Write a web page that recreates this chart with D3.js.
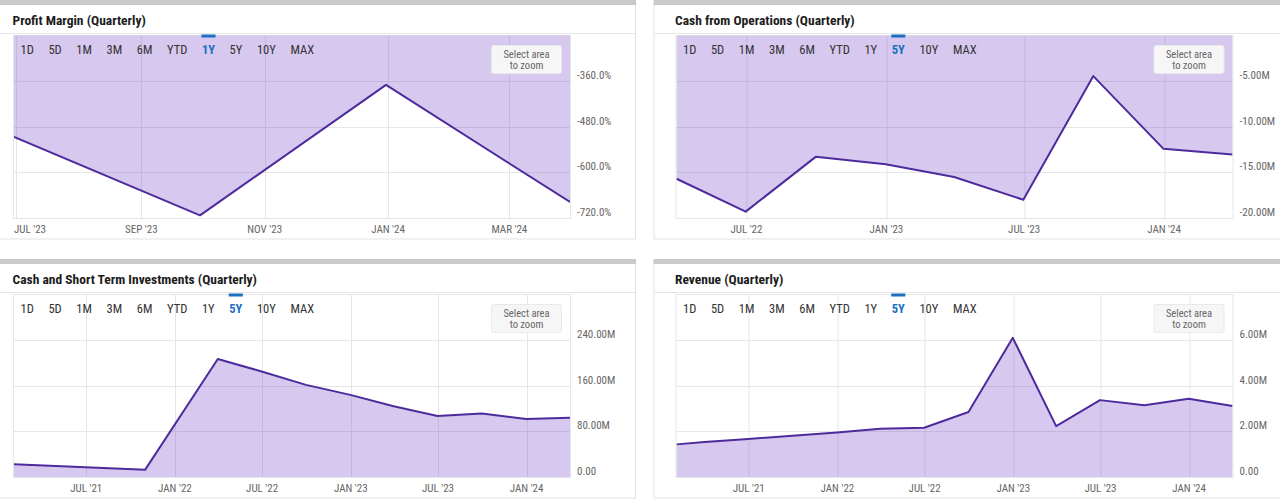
<!DOCTYPE html>
<html><head><meta charset="utf-8">
<script src="https://cdn.jsdelivr.net/npm/d3@7"></script>
<style>
html,body{margin:0;padding:0;background:#fff;overflow:hidden;}
svg{display:block;}
text{font-family:"Liberation Sans Narrow","Roboto Condensed","DejaVu Sans Condensed","Liberation Sans",Arial,sans-serif;}
</style></head><body>
<svg id="chart" width="1280" height="499"></svg>
<script>
// ---------- data ----------
const rangeButtons = ["1D","5D","1M","3M","6M","YTD","1Y","5Y","10Y","MAX"];

// Profit Margin (Quarterly), %
const pmTitle = "Profit Margin (Quarterly)";
const pmDates = ["2023-06-30","2023-09-30","2023-12-31","2024-03-31"];
const pmValues = [-507, -713, -370, -678];
const pmXDomain = ["2023-06-30","2024-03-31"];
const pmXTicks = ["2023-07-01","2023-09-01","2023-11-01","2024-01-01","2024-03-01"];
const pmXLabels = ["JUL '23","SEP '23","NOV '23","JAN '24","MAR '24"];
const pmYDomain = [-720, -240];
const pmYTicks = [-360, -480, -600, -720];
const pmYLabels = ["-360.0%","-480.0%","-600.0%","-720.0%"];

// Cash from Operations (Quarterly), millions
const cfoTitle = "Cash from Operations (Quarterly)";
const cfoDates = ["2022-03-31","2022-06-30","2022-09-30","2022-12-31","2023-03-31","2023-06-30","2023-09-30","2023-12-31","2024-03-31"];
const cfoValues = [-15.7, -19.3, -13.3, -14.1, -15.5, -18.0, -4.45, -12.4, -13.05];
const cfoXDomain = ["2022-03-31","2024-03-31"];
const cfoXTicks = ["2022-07-01","2023-01-01","2023-07-01","2024-01-01"];
const cfoXLabels = ["JUL '22","JAN '23","JUL '23","JAN '24"];
const cfoYDomain = [-20, 0];
const cfoYTicks = [-5, -10, -15, -20];
const cfoYLabels = ["-5.00M","-10.00M","-15.00M","-20.00M"];

// Cash and Short Term Investments (Quarterly), millions
const cashTitle = "Cash and Short Term Investments (Quarterly)";
const cashDates = ["2021-02-01","2021-10-31","2022-03-31","2022-06-30","2022-09-30","2022-12-31","2023-03-31","2023-06-30","2023-09-30","2023-12-31","2024-03-31"];
const cashValues = [22.5, 12.5, 207, 185, 161.5, 144, 124, 107, 111.5, 101.5, 104];
const cashXDomain = ["2021-02-01","2024-03-31"];
const cashXTicks = ["2021-07-01","2022-01-01","2022-07-01","2023-01-01","2023-07-01","2024-01-01"];
const cashXLabels = ["JUL '21","JAN '22","JUL '22","JAN '23","JUL '23","JAN '24"];
const cashYDomain = [0, 320];
const cashYTicks = [0, 80, 160, 240];
const cashYLabels = ["0.00","80.00M","160.00M","240.00M"];

// Revenue (Quarterly), millions
const revTitle = "Revenue (Quarterly)";
const revDates = ["2021-02-01","2021-03-31","2021-06-30","2021-09-30","2021-12-31","2022-03-31","2022-06-30","2022-09-30","2022-12-31","2023-03-31","2023-06-30","2023-09-30","2023-12-31","2024-03-31"];
const revValues = [1.43, 1.53, 1.67, 1.81, 1.95, 2.11, 2.16, 2.85, 6.1, 2.23, 3.37, 3.15, 3.43, 3.11];
const revXDomain = ["2021-02-01","2024-03-31"];
const revXTicks = ["2021-07-01","2022-01-01","2022-07-01","2023-01-01","2023-07-01","2024-01-01"];
const revXLabels = ["JUL '21","JAN '22","JUL '22","JAN '23","JUL '23","JAN '24"];
const revYDomain = [0, 8];
const revYTicks = [0, 2, 4, 6];
const revYLabels = ["0.00","2.00M","4.00M","6.00M"];

// ---------- drawing ----------
const parse = d3.timeParse("%Y-%m-%d");
const svg = d3.select("#chart");
const G = {left:14, right:570, top:35.5, bottom:218};
let clipId = 0;

function drawPanel(o) {
  const g = svg.append("g").attr("transform", `translate(${o.ox},${o.oy})`);
  // panel frame
  g.append("rect").attr("x", -8.5).attr("y", 4.5).attr("width", 644).attr("height", 234.5)
    .attr("fill", "#fff").attr("stroke", "#e3e3e3");
  g.append("rect").attr("x", -9).attr("y", 0).attr("width", 645).attr("height", 5).attr("fill", "#cacaca");
  g.append("text").attr("x", 12.5).attr("y", 25).attr("font-size", 13.5).attr("font-weight", "bold")
    .attr("fill", "#1c1c1c").text(o.title);
  g.append("line").attr("x1", -8).attr("x2", 636).attr("y1", 33.5).attr("y2", 33.5).attr("stroke", "#e6e6e6");

  const x = d3.scaleTime().domain(o.xDomain.map(parse)).range([G.left, G.right]);
  const y = d3.scaleLinear().domain(o.yDomain).range([G.bottom, G.top]);

  // gridlines
  g.append("g").selectAll("line.v").data(o.xTicks.map(parse)).join("line")
    .attr("x1", d => Math.round(x(d)) + 0.5).attr("x2", d => Math.round(x(d)) + 0.5)
    .attr("y1", G.top).attr("y2", G.bottom).attr("stroke", "#e6e6e6");
  g.append("g").selectAll("line.h").data(o.yTicks).join("line")
    .attr("x1", G.left).attr("x2", G.right)
    .attr("y1", d => Math.round(y(d)) + 0.5).attr("y2", d => Math.round(y(d)) + 0.5).attr("stroke", "#e6e6e6");
  // plot border
  g.append("rect").attr("x", G.left - 0.5).attr("y", G.top).attr("width", G.right - G.left + 1)
    .attr("height", G.bottom - G.top + 0.5).attr("fill", "none").attr("stroke", "#e6e6e6");

  // series
  const id = "clip" + (clipId++);
  g.append("clipPath").attr("id", id).append("rect")
    .attr("x", G.left).attr("y", G.top).attr("width", G.right - G.left).attr("height", G.bottom - G.top);
  const pts = o.dates.map((d, i) => ({d: parse(d), v: o.values[i]}));
  const y0 = Math.max(G.top - 2, Math.min(G.bottom, y(0)));
  const area = d3.area().x(p => x(p.d)).y0(y0).y1(p => y(p.v));
  const line = d3.line().x(p => x(p.d)).y(p => y(p.v));
  const sg = g.append("g").attr("clip-path", `url(#${id})`);
  sg.append("path").datum(pts).attr("d", area).attr("fill", "rgb(122,72,204)").attr("fill-opacity", 0.3);
  sg.append("path").datum(pts).attr("d", line).attr("fill", "none").attr("stroke", "#4e2b9c")
    .attr("stroke-width", 2).attr("stroke-linejoin", "round");

  // y labels
  g.append("g").selectAll("text").data(o.yTicks).join("text")
    .attr("x", G.left + 563).attr("y", (d) => y(d) - 2)
    .attr("font-size", 11).attr("fill", "#666").text((d, i) => o.yLabels[i]);

  // x labels
  g.append("g").selectAll("text").data(o.xTicks.map(parse)).join("text")
    .attr("x", d => x(d)).attr("y", 233).attr("text-anchor", "middle")
    .attr("font-size", 11).attr("fill", "#666").text((d, i) => o.xLabels[i])
    .each(function() {
      const b = this.getBBox();
      if (b.x < G.left) { d3.select(this).attr("text-anchor", "start").attr("x", G.left); }
    });

  // range selector buttons
  let bx = 20.5;
  rangeButtons.forEach(lbl => {
    const active = lbl === o.active;
    const t = g.append("text").attr("x", bx).attr("y", 53.5).attr("font-size", 12.5)
      .attr("fill", active ? "#1d6fc2" : "#333").attr("font-weight", active ? "bold" : "normal").text(lbl);
    const w = t.node().getComputedTextLength();
    if (active) {
      g.append("rect").attr("x", bx - 0.5).attr("y", 34.5).attr("width", w + 1).attr("height", 3).attr("fill", "#1d6fc2");
    }
    bx += w + 14.6;
  });

  // select area to zoom
  g.append("rect").attr("x", 491.5).attr("y", 45.5).attr("width", 70).attr("height", 28).attr("rx", 2)
    .attr("fill", "#f6f6f6").attr("stroke", "#e9e9e9");
  g.append("text").attr("x", 526.5).attr("y", 58).attr("text-anchor", "middle").attr("font-size", 10.5)
    .attr("fill", "#666").text("Select area");
  g.append("text").attr("x", 526.5).attr("y", 69).attr("text-anchor", "middle").attr("font-size", 10.5)
    .attr("fill", "#666").text("to zoom");
}

drawPanel({ox:0, oy:0, title:pmTitle, dates:pmDates, values:pmValues, xDomain:pmXDomain, xTicks:pmXTicks, xLabels:pmXLabels, yDomain:pmYDomain, yTicks:pmYTicks, yLabels:pmYLabels, active:"1Y"});
drawPanel({ox:662.5, oy:0, title:cfoTitle, dates:cfoDates, values:cfoValues, xDomain:cfoXDomain, xTicks:cfoXTicks, xLabels:cfoXLabels, yDomain:cfoYDomain, yTicks:cfoYTicks, yLabels:cfoYLabels, active:"5Y"});
drawPanel({ox:0, oy:259, title:cashTitle, dates:cashDates, values:cashValues, xDomain:cashXDomain, xTicks:cashXTicks, xLabels:cashXLabels, yDomain:cashYDomain, yTicks:cashYTicks, yLabels:cashYLabels, active:"5Y"});
drawPanel({ox:662.5, oy:259, title:revTitle, dates:revDates, values:revValues, xDomain:revXDomain, xTicks:revXTicks, xLabels:revXLabels, yDomain:revYDomain, yTicks:revYTicks, yLabels:revYLabels, active:"5Y"});
</script>
</body></html>
